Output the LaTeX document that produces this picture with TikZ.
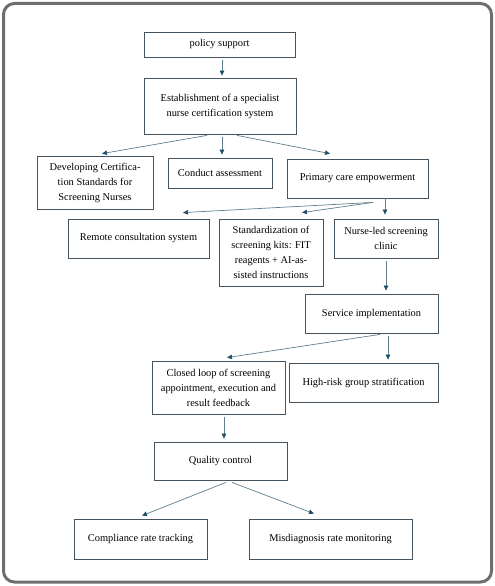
\documentclass[tikz,border=0pt]{standalone}
\usepackage{fontspec}
\setmainfont{Liberation Serif}
\usetikzlibrary{arrows.meta}
\definecolor{boxline}{HTML}{46545F}
\definecolor{arrline}{HTML}{5E7F8E}
\definecolor{arrhead}{HTML}{1F4F66}
\definecolor{frame}{HTML}{6E6E6E}
\tikzset{
  box/.style={draw=boxline, line width=0.8pt, inner sep=1pt, align=center,
    font=\fontsize{10.4}{15}\selectfont, text=black},
  arr/.style={draw=arrline, line width=0.7pt,
    -{Triangle[length=5pt,width=4.5pt,color=arrhead,fill=arrhead]}},
}
\begin{document}
\begin{tikzpicture}[x=1pt,y=-1pt]
\useasboundingbox (0,0) rectangle (495,586);
\draw[frame, line width=3pt, rounded corners=11pt] (3.5,3.5) rectangle (491.5,582);

\node[box, minimum width=151pt, minimum height=25pt] (pol) at (219.5,44.5) {policy support};
\node[box, minimum width=152pt, minimum height=56pt] (est) at (220,106) {Establishment of a specialist\\nurse certification system};
\node[box, minimum width=116pt, minimum height=53pt] (dev) at (95,182.5) {Developing Certifica-\\tion Standards for\\Screening Nurses};
\node[box, minimum width=104pt, minimum height=30pt] (con) at (220,173) {Conduct assessment};
\node[box, minimum width=141pt, minimum height=39pt] (pri) at (357.5,178.5) {Primary care empowerment};
\node[box, minimum width=141pt, minimum height=39pt] (rem) at (138.5,238.5) {Remote consultation system};
\node[box, minimum width=104pt, minimum height=67pt] (std) at (271,252.5) {Standardization of\\screening kits: FIT\\reagents + AI-as-\\sisted instructions};
\node[box, minimum width=104pt, minimum height=39pt] (nur) at (386,238.5) {Nurse-led screening\\clinic};
\node[box, minimum width=133pt, minimum height=39pt] (ser) at (371.5,313.5) {Service implementation};
\node[box, minimum width=133pt, minimum height=53pt] (clo) at (218.5,387.5) {Closed loop of screening\\appointment, execution and\\result feedback};
\node[box, minimum width=149pt, minimum height=39pt] (hig) at (363.5,382.5) {High-risk group stratification};
\node[box, minimum width=133pt, minimum height=38pt] (qua) at (220.5,461) {Quality control};
\node[box, minimum width=133pt, minimum height=40pt] (com) at (140.5,539) {Compliance rate tracking};
\node[box, minimum width=163pt, minimum height=40pt] (mis) at (330.5,539) {Misdiagnosis rate monitoring};

\draw[arr] ([xshift=2.5pt,yshift=-3pt]pol.south) -- ([xshift=2pt,yshift=2pt]est.north);
\draw[arr] ([xshift=-13pt,yshift=-1pt]est.south) -- ([xshift=7pt,yshift=2pt]dev.north);
\draw[arr] ([xshift=2pt,yshift=-3pt]est.south) -- ([xshift=2pt,yshift=3pt]con.north);
\draw[arr] ([xshift=17pt,yshift=-1pt]est.south) -- ([xshift=-27.5pt,yshift=5pt]pri.north);
\draw[arr] ([xshift=15.5pt,yshift=-4pt]pri.south) -- ([xshift=44.5pt,yshift=6pt]rem.north);
\draw[arr] ([xshift=15.5pt,yshift=-4pt]pri.south) -- ([xshift=31pt,yshift=6pt]std.north);
\draw[arr] ([xshift=27.5pt]pri.south) -- ([xshift=-1pt,yshift=4pt]nur.north);
\draw[arr] ([yshift=-3pt]nur.south) -- ([xshift=14.5pt,yshift=3pt]ser.north);
\draw[arr] ([xshift=8.5pt,yshift=-1pt]ser.south) -- ([xshift=8.5pt,yshift=3pt]clo.north);
\draw[arr] ([xshift=16.5pt,yshift=-3pt]ser.south) -- ([xshift=24.5pt,yshift=3pt]hig.north);
\draw[arr] ([xshift=5.5pt,yshift=-3pt]clo.south) -- ([xshift=3.5pt,yshift=3pt]qua.north);
\draw[arr] ([xshift=5.5pt,yshift=-2pt]qua.south) -- ([xshift=1.5pt,yshift=3pt]com.north);
\draw[arr] ([xshift=11.5pt,yshift=-2pt]qua.south) -- ([xshift=-16.5pt,yshift=5pt]mis.north);
\end{tikzpicture}
\end{document}
